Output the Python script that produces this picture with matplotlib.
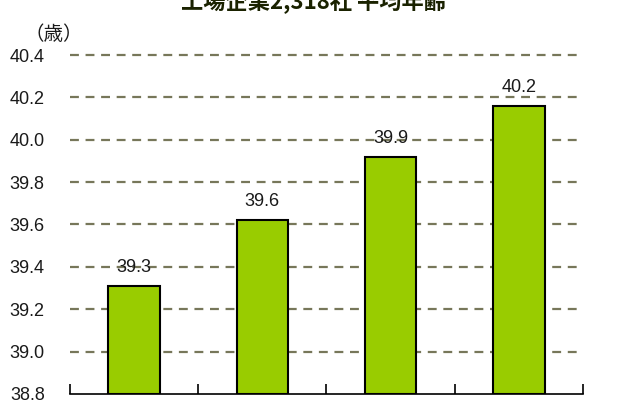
import matplotlib
matplotlib.use("Agg")
import matplotlib.pyplot as plt

plt.rcParams['font.family'] = ['Liberation Sans', 'Noto Sans CJK JP', 'DejaVu Sans']

title = "工場企業2,318社 平均年齢"
unit = "（歳）"
years = ["A", "B", "C", "D"]
ages = [39.31, 39.62, 39.92, 40.16]
age_labels = ["39.3", "39.6", "39.9", "40.2"]
yticks = [38.8, 39.0, 39.2, 39.4, 39.6, 39.8, 40.0, 40.2, 40.4]

fig = plt.figure(figsize=(6.4, 4.0), dpi=100)
ax = fig.add_axes([0.109, 0.015, 0.802, 0.8475])

x = list(range(len(years)))
ax.bar(x, [a - 38.8 for a in ages], bottom=38.8, width=0.4,
       color="#99cc00", edgecolor="black", linewidth=1.5, zorder=3)

for xi, a, lab in zip(x, ages, age_labels):
    ax.text(xi, a + 0.087, lab, ha="center", va="center", fontsize=13, color="#1a1a1a")

ax.set_xlim(-0.5, len(years) - 0.5)
ax.set_ylim(38.8, 40.4)
ax.set_yticks(yticks)
ax.set_yticklabels([f"{v:.1f}" for v in yticks], fontsize=13, color="#1a1a1a")
ax.set_xticks([i - 0.5 for i in range(len(years) + 1)])
ax.set_xticklabels([])
ax.tick_params(axis="x", direction="in", length=7, width=1.2)
ax.tick_params(axis="y", length=0, pad=18)

for v in yticks[1:]:
    ax.axhline(v, color="#77775a", linestyle=(0, (4, 3)), linewidth=1.6,
               zorder=1, clip_on=False)

for s in ["top", "right", "left"]:
    ax.spines[s].set_visible(False)
ax.spines["bottom"].set_linewidth(1.2)

fig.text(0.49, 0.977, title, ha="center", va="baseline", fontsize=16,
         fontweight="bold", family=['Noto Sans CJK JP', 'DejaVu Sans'], color="#1a2200")
fig.text(0.038, 0.915, unit, ha="left", va="center", fontsize=14,
         family=['Noto Sans CJK JP', 'DejaVu Sans'], color="#1a1a1a")

fig.savefig("out.png", dpi=100)
